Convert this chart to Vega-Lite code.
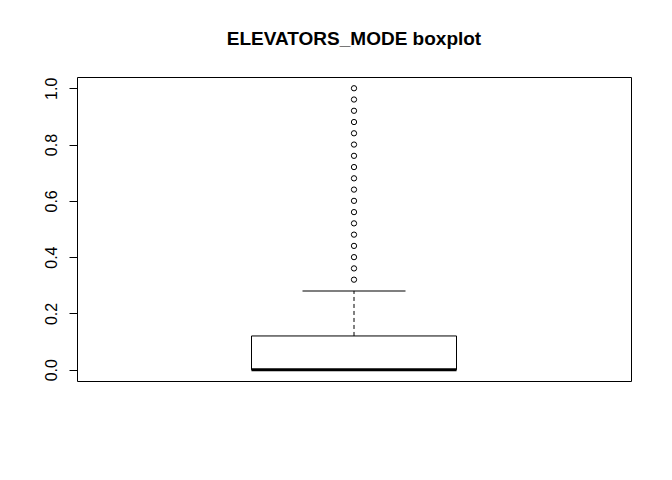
{
  "$schema": "https://vega.github.io/schema/vega-lite/v6.json",
  "width": 554,
  "height": 304,
  "autosize": "none",
  "padding": {"left": 77, "top": 77, "right": 41, "bottom": 99},
  "background": "white",
  "config": {
    "view": {"stroke": "black", "strokeWidth": 1},
    "font": "Liberation Sans"
  },
  "title": {
    "text": "ELEVATORS_MODE boxplot",
    "font": "Liberation Sans",
    "fontSize": 19,
    "fontWeight": "bold",
    "color": "black",
    "anchor": "middle",
    "frame": "group",
    "offset": 28
  },
  "datasets": {
    "summary": [
      {"group": "ELEVATORS_MODE", "lower": 0, "q1": 0, "median": 0, "q3": 0.12, "upper": 0.28}
    ],
    "outliers": [
      {"group": "ELEVATORS_MODE", "value": 0.32},
      {"group": "ELEVATORS_MODE", "value": 0.36},
      {"group": "ELEVATORS_MODE", "value": 0.40},
      {"group": "ELEVATORS_MODE", "value": 0.44},
      {"group": "ELEVATORS_MODE", "value": 0.48},
      {"group": "ELEVATORS_MODE", "value": 0.52},
      {"group": "ELEVATORS_MODE", "value": 0.56},
      {"group": "ELEVATORS_MODE", "value": 0.60},
      {"group": "ELEVATORS_MODE", "value": 0.64},
      {"group": "ELEVATORS_MODE", "value": 0.68},
      {"group": "ELEVATORS_MODE", "value": 0.72},
      {"group": "ELEVATORS_MODE", "value": 0.76},
      {"group": "ELEVATORS_MODE", "value": 0.80},
      {"group": "ELEVATORS_MODE", "value": 0.84},
      {"group": "ELEVATORS_MODE", "value": 0.88},
      {"group": "ELEVATORS_MODE", "value": 0.92},
      {"group": "ELEVATORS_MODE", "value": 0.96},
      {"group": "ELEVATORS_MODE", "value": 1.00}
    ]
  },
  "encoding": {
    "x": {
      "field": "group",
      "type": "nominal",
      "axis": null,
      "scale": {"paddingInner": 0, "paddingOuter": 0}
    }
  },
  "layer": [
    {
      "data": {"name": "summary"},
      "mark": {"type": "rule", "strokeDash": [4, 3], "color": "black", "strokeWidth": 1},
      "encoding": {
        "y": {
          "field": "q3",
          "type": "quantitative",
          "scale": {"domain": [-0.04, 1.04], "nice": false, "zero": false},
          "axis": {
            "title": null,
            "values": [0, 0.2, 0.4, 0.6, 0.8, 1.0],
            "format": ".1f",
            "grid": false,
            "domain": false,
            "tickColor": "black",
            "tickSize": 8,
            "labelAngle": -90,
            "labelAlign": "center",
            "labelBaseline": "bottom",
            "labelPadding": 10,
            "labelFontSize": 16,
            "labelColor": "black",
            "labelFont": "Liberation Sans"
          }
        },
        "y2": {"field": "upper"}
      }
    },
    {
      "data": {"name": "summary"},
      "mark": {"type": "tick", "color": "black", "opacity": 1, "thickness": 1, "size": 103},
      "encoding": {"y": {"field": "upper", "type": "quantitative"}}
    },
    {
      "data": {"name": "summary"},
      "mark": {"type": "bar", "fill": "white", "stroke": "black", "strokeWidth": 1, "size": 205},
      "encoding": {
        "y": {"field": "q1", "type": "quantitative"},
        "y2": {"field": "q3"}
      }
    },
    {
      "data": {"name": "summary"},
      "mark": {"type": "tick", "color": "black", "opacity": 1, "thickness": 3, "size": 205},
      "encoding": {"y": {"field": "median", "type": "quantitative"}}
    },
    {
      "data": {"name": "outliers"},
      "mark": {"type": "point", "shape": "circle", "filled": false, "color": "black", "strokeWidth": 1, "size": 28, "opacity": 1},
      "encoding": {"y": {"field": "value", "type": "quantitative"}}
    }
  ]
}
